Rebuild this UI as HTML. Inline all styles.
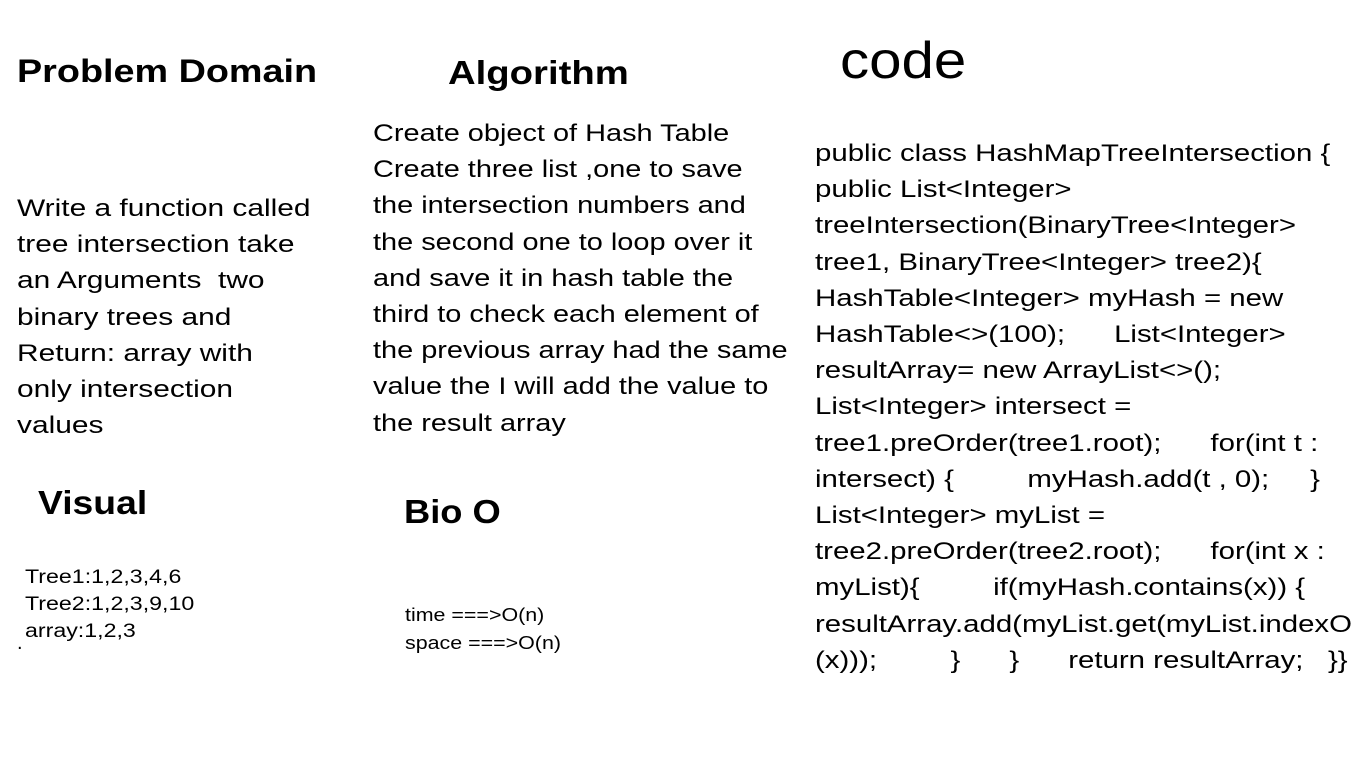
<!DOCTYPE html>
<html><head><meta charset="utf-8"><style>
body{margin:0;width:1366px;height:768px;background:#fff;position:relative;overflow:hidden;font-family:"Liberation Sans",sans-serif;color:#000}
.a{position:absolute;white-space:nowrap;transform-origin:0 0}
.h{font-weight:bold;font-size:33px}
.t{font-size:24.5px;line-height:36.2px}
</style></head><body>
<div class="a h" style="left:17px;top:53px;font-size:32px;transform:scaleX(1.18)">Problem Domain</div>
<div class="a h" style="left:448px;top:54px;font-size:33px;transform:scaleX(1.16)">Algorithm</div>
<div class="a" style="left:840px;top:31px;font-size:52px;transform:scaleX(1.12)">code</div>
<div class="a t" style="left:17px;top:191px;transform:scaleX(1.22)">Write a function called<br>tree intersection take<br>an Arguments &nbsp;two<br>binary trees and<br>Return: array with<br>only intersection<br>values</div>
<div class="a t" style="left:373px;top:116px;transform:scaleX(1.18)">Create object of Hash Table<br>Create three list ,one to save<br>the intersection numbers and<br>the second one to loop over it<br>and save it in hash table the<br>third to check each element of<br>the previous array had the same<br>value the I will add the value to<br>the result array</div>
<div class="a t" style="left:815px;top:136px;transform:scaleX(1.2)">public class HashMapTreeIntersection {<br>public List&lt;Integer&gt;<br>treeIntersection(BinaryTree&lt;Integer&gt;<br>tree1, BinaryTree&lt;Integer&gt; tree2){<br>HashTable&lt;Integer&gt; myHash = new<br>HashTable&lt;&gt;(100); &nbsp;&nbsp;&nbsp;&nbsp;&nbsp;List&lt;Integer&gt;<br>resultArray= new ArrayList&lt;&gt;();<br>List&lt;Integer&gt; intersect =<br>tree1.preOrder(tree1.root); &nbsp;&nbsp;&nbsp;&nbsp;&nbsp;for(int t :<br>intersect) { &nbsp;&nbsp;&nbsp;&nbsp;&nbsp;&nbsp;&nbsp;&nbsp;myHash.add(t , 0); &nbsp;&nbsp;&nbsp;&nbsp;}<br>List&lt;Integer&gt; myList =<br>tree2.preOrder(tree2.root); &nbsp;&nbsp;&nbsp;&nbsp;&nbsp;for(int x :<br>myList){ &nbsp;&nbsp;&nbsp;&nbsp;&nbsp;&nbsp;&nbsp;&nbsp;if(myHash.contains(x)) {<br>resultArray.add(myList.get(myList.indexO<br>(x))); &nbsp;&nbsp;&nbsp;&nbsp;&nbsp;&nbsp;&nbsp;&nbsp;} &nbsp;&nbsp;&nbsp;&nbsp;&nbsp;} &nbsp;&nbsp;&nbsp;&nbsp;&nbsp;return resultArray; &nbsp;&nbsp;}}</div>
<div class="a h" style="left:38px;top:484px;font-size:33px;transform:scaleX(1.13)">Visual</div>
<div class="a h" style="left:404px;top:493px;font-size:33px;transform:scaleX(1.1)">Bio O</div>
<div class="a" style="left:25px;top:564px;font-size:19px;line-height:27px;transform:scaleX(1.22)">Tree1:1,2,3,4,6<br>Tree2:1,2,3,9,10<br>array:1,2,3</div>
<div class="a" style="left:17px;top:632px;font-size:20px">.</div>
<div class="a" style="left:405px;top:601px;font-size:18px;line-height:28px;transform:scaleX(1.19)">time ===&gt;O(n)<br>space ===&gt;O(n)</div>
</body></html>
